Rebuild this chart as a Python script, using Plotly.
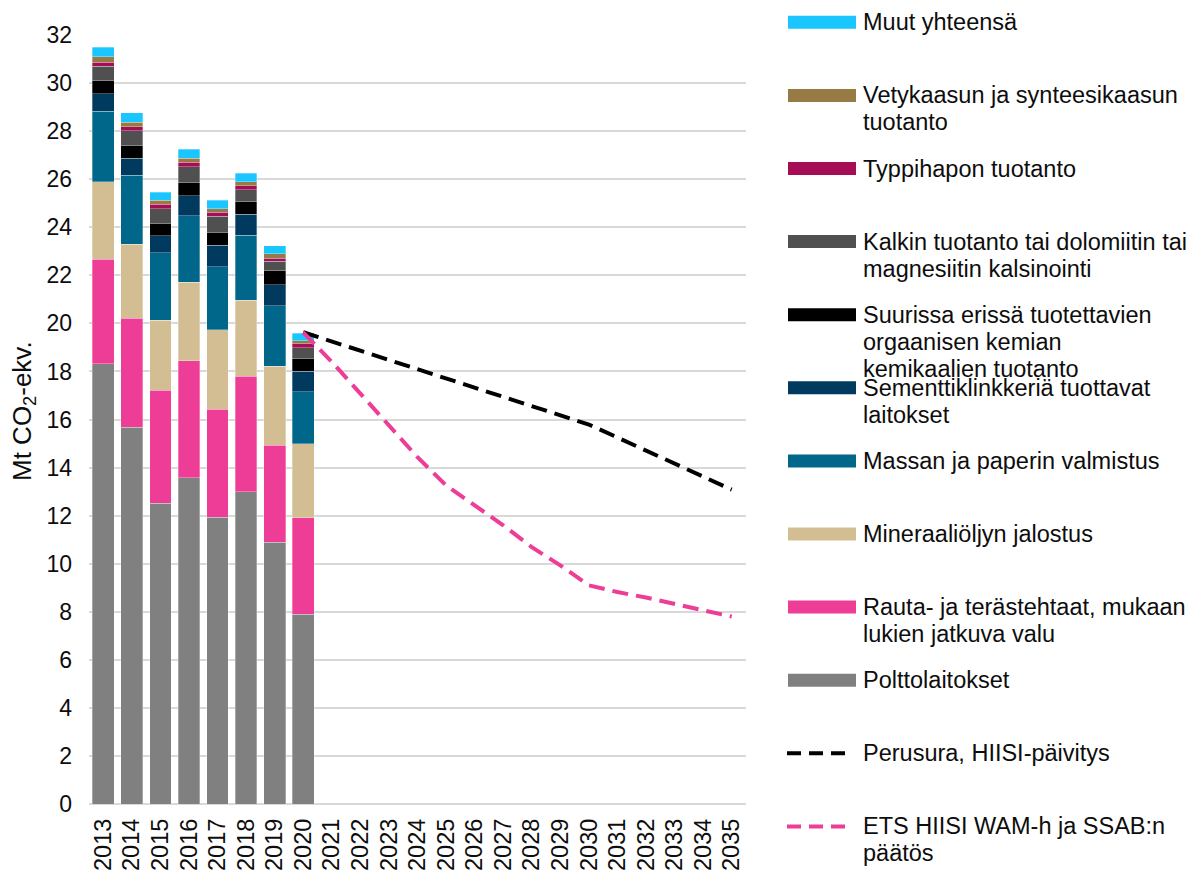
import plotly.graph_objects as go

# ---------------- data ----------------
years_hist = ["2013", "2014", "2015", "2016", "2017", "2018", "2019", "2020"]
all_years = [str(y) for y in range(2013, 2036)]

polttolaitokset = [18.32, 15.68, 12.52, 13.57, 11.94, 13.00, 10.89, 7.90]
rauta = [4.34, 4.53, 4.69, 4.88, 4.49, 4.79, 4.04, 4.02]
mineraali = [3.23, 3.09, 2.92, 3.26, 3.31, 3.18, 3.29, 3.07]
massan = [2.93, 2.87, 2.81, 2.77, 2.61, 2.70, 2.51, 2.16]
sementti = [0.74, 0.71, 0.71, 0.83, 0.91, 0.88, 0.87, 0.86]
suurissa = [0.53, 0.52, 0.51, 0.56, 0.53, 0.51, 0.58, 0.54]
kalkin = [0.61, 0.61, 0.60, 0.65, 0.66, 0.51, 0.40, 0.43]
typpihapon = [0.17, 0.17, 0.19, 0.18, 0.17, 0.16, 0.14, 0.17]
vetykaasun = [0.22, 0.19, 0.17, 0.17, 0.16, 0.16, 0.17, 0.12]
muut = [0.41, 0.39, 0.34, 0.37, 0.35, 0.36, 0.33, 0.32]

years_proj = [str(y) for y in range(2020, 2036)]
perusura = [19.63, 19.25, 18.87, 18.48, 18.10, 17.72, 17.33, 16.95, 16.56,
            16.18, 15.79, 15.25, 14.70, 14.16, 13.62, 13.08]
ets_wam = [19.63, 18.40, 17.08, 15.75, 14.43, 13.26, 12.43, 11.60, 10.69,
           9.93, 9.10, 8.82, 8.59, 8.34, 8.09, 7.80]

y_ticks = list(range(0, 33, 2))

bar_series = [
    ("Polttolaitokset", polttolaitokset, "#808080", ["Polttolaitokset"]),
    ("Rauta- ja terästehtaat, mukaan lukien jatkuva valu", rauta, "#EE3D96",
     ["Rauta- ja terästehtaat, mukaan", "lukien jatkuva valu"]),
    ("Mineraaliöljyn jalostus", mineraali, "#D3BD92", ["Mineraaliöljyn jalostus"]),
    ("Massan ja paperin valmistus", massan, "#00668A", ["Massan ja paperin valmistus"]),
    ("Sementtiklinkkeriä tuottavat laitokset", sementti, "#003A5F",
     ["Sementtiklinkkeriä tuottavat", "laitokset"]),
    ("Suurissa erissä tuotettavien orgaanisen kemian kemikaalien tuotanto", suurissa, "#000000",
     ["Suurissa erissä tuotettavien", "orgaanisen kemian", "kemikaalien tuotanto"]),
    ("Kalkin tuotanto tai dolomiitin tai magnesiitin kalsinointi", kalkin, "#505050",
     ["Kalkin tuotanto tai dolomiitin tai", "magnesiitin kalsinointi"]),
    ("Typpihapon tuotanto", typpihapon, "#A50D55", ["Typpihapon tuotanto"]),
    ("Vetykaasun ja synteesikaasun tuotanto", vetykaasun, "#967B45",
     ["Vetykaasun ja synteesikaasun", "tuotanto"]),
    ("Muut yhteensä", muut, "#1AC6FF", ["Muut yhteensä"]),
]
line_series = [
    ("Perusura, HIISI-päivitys", perusura, "#000000", ["Perusura, HIISI-päivitys"]),
    ("ETS HIISI WAM-h ja SSAB:n päätös", ets_wam, "#EE3D96",
     ["ETS HIISI WAM-h ja SSAB:n", "päätös"]),
]

# ---------------- layout geometry (pixels) ----------------
W, H = 1202, 873
L, R, T, B = 89, 746, 35, 804

def xp(px):
    return (px - L) / (R - L)

def yp(py):
    return (B - py) / (B - T)

fig = go.Figure()

for name, vals, col, _ in bar_series:
    fig.add_trace(go.Bar(
        x=years_hist, y=vals, name=name, marker_color=col,
        marker_line_width=0.6, marker_line_color="rgba(255,255,255,0.5)",
        showlegend=False,
    ))

for name, vals, col, _ in line_series:
    fig.add_trace(go.Scatter(
        x=years_proj, y=vals, name=name, mode="lines",
        line=dict(color=col, width=4, dash="16px,8px"),
        showlegend=False,
    ))

# ---------------- manual legend ----------------
legend_order = list(reversed(bar_series)) + line_series
slot0, slot_step = 22.3, 73.1
line_step = 27.0
font_family = "Liberation Sans, Arial, sans-serif"
text_col = "#0d0d0d"
shapes = []
annotations = []
for i, (name, vals, col, lines) in enumerate(legend_order):
    cy = slot0 + i * slot_step
    if i < len(bar_series):
        shapes.append(dict(type="rect", xref="paper", yref="paper",
                           x0=xp(788), x1=xp(856), y0=yp(cy - 6.5), y1=yp(cy + 6.5),
                           fillcolor=col, line_width=0, layer="above"))
    else:
        shapes.append(dict(type="line", xref="paper", yref="paper",
                           x0=xp(787), x1=xp(851), y0=yp(cy), y1=yp(cy),
                           line=dict(color=col, width=4, dash="14px,8px")))
    for j, txt in enumerate(lines):
        annotations.append(dict(
            xref="paper", yref="paper", x=xp(861), y=yp(cy + j * line_step),
            xanchor="left", yanchor="middle", text=txt, showarrow=False,
            font=dict(family=font_family, size=23.5, color=text_col),
        ))

# y-axis title placed as rotated annotation (matches reference position)
annotations.append(dict(
    xref="paper", yref="paper", x=xp(23), y=yp(411),
    xanchor="center", yanchor="middle", textangle=-90,
    text="Mt CO<sub>2</sub>-ekv.", showarrow=False,
    font=dict(family=font_family, size=26, color=text_col),
))

fig.update_layout(
    barmode="stack",
    bargap=0.24,
    width=W, height=H,
    margin=dict(l=L, r=W - R, t=T, b=H - B, pad=0, autoexpand=False),
    plot_bgcolor="white", paper_bgcolor="white",
    font=dict(family=font_family, size=22, color=text_col),
    shapes=shapes,
    annotations=annotations,
    showlegend=False,
)
fig.update_xaxes(
    type="category", categoryorder="array", categoryarray=all_years,
    range=[-0.5, len(all_years) - 0.5],
    tickangle=-90, tickfont=dict(size=23.5, color=text_col),
    showgrid=False, showline=False, zeroline=False, ticks="",
    ticklabelstandoff=9, automargin=False,
)
fig.update_yaxes(
    range=[0, 32], tickvals=y_ticks, ticktext=[str(v) for v in y_ticks],
    showgrid=True, gridcolor="#d9d9d9", gridwidth=1.5,
    zeroline=True, zerolinecolor="#d9d9d9", zerolinewidth=1.5,
    showline=False, ticks="", tickfont=dict(size=23, color=text_col),
    ticklabelstandoff=16, automargin=False,
)

fig.write_html(
    "out.html",
    config={"displayModeBar": False},
    post_script="document.body.style.margin='0';document.body.style.overflow='hidden';",
)
